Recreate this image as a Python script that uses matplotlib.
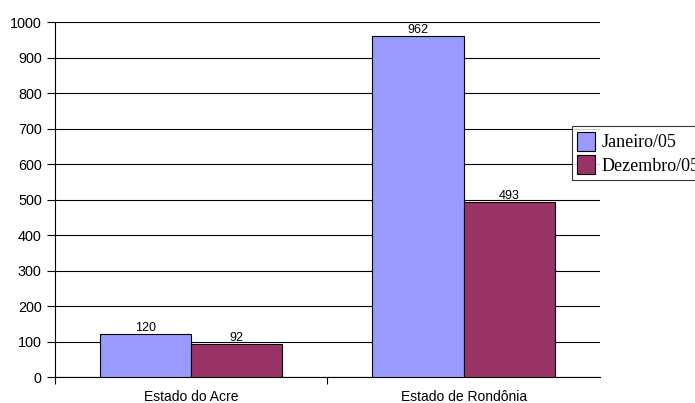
import numpy as np
import matplotlib.pyplot as plt

categorias = ['Estado do Acre', 'Estado de Rondônia']
janeiro = [120, 962]
dezembro = [92, 493]
series = ['Janeiro/05', 'Dezembro/05']

fig = plt.figure(figsize=(6.95, 4.03), dpi=100)
ax = fig.add_axes([0.079, 0.0645, 0.784, 0.8805])

x = np.arange(len(categorias))
w = 0.335
b1 = ax.bar(x - w / 2, janeiro, w, color='#9999FF', edgecolor='black', linewidth=0.8, label=series[0], zorder=3)
b2 = ax.bar(x + w / 2, dezembro, w, color='#993366', edgecolor='black', linewidth=0.8, label=series[1], zorder=3)

for bars, vals in [(b1, janeiro), (b2, dezembro)]:
    for r, v in zip(bars, vals):
        ax.text(r.get_x() + r.get_width() / 2, v, str(v), ha='center', va='bottom',
                fontsize=9, family='Liberation Sans', zorder=4)

ax.set_xlim(-0.5, 1.5)
ax.set_ylim(0, 1000)
ax.set_yticks(range(0, 1001, 100))
ax.yaxis.grid(True, color='black', linewidth=0.8, zorder=0)
ax.set_axisbelow(True)

ax.set_xticks([-0.5, 0.5])
ax.set_xticklabels([])
ax.set_xticks(x, minor=True)
ax.set_xticklabels(categorias, minor=True, fontsize=10, family='Liberation Sans')
ax.tick_params(axis='x', which='minor', length=0, pad=9)
ax.tick_params(axis='x', which='major', length=5, width=0.8, direction='out')
ax.tick_params(axis='y', length=6, width=0.8, labelsize=10.4, pad=3.5)
for lab in ax.get_yticklabels():
    lab.set_family('Liberation Sans')

ax.spines['top'].set_visible(False)
ax.spines['right'].set_visible(False)
ax.spines['left'].set_linewidth(0.8)
ax.spines['bottom'].set_linewidth(0.8)

leg = fig.legend(handles=[b1, b2], loc='lower left', bbox_to_anchor=(0.823, 1 - 180 / 403),
                 bbox_transform=fig.transFigure, frameon=True, fancybox=False,
                 prop={'family': 'Liberation Serif', 'size': 13}, borderpad=0.3,
                 handlelength=1.0, handleheight=1.25, handletextpad=0.35, labelspacing=0.2,
                 borderaxespad=0)
leg.get_frame().set_edgecolor('black')
leg.get_frame().set_linewidth(0.8)

fig.savefig('out.png', dpi=100)
